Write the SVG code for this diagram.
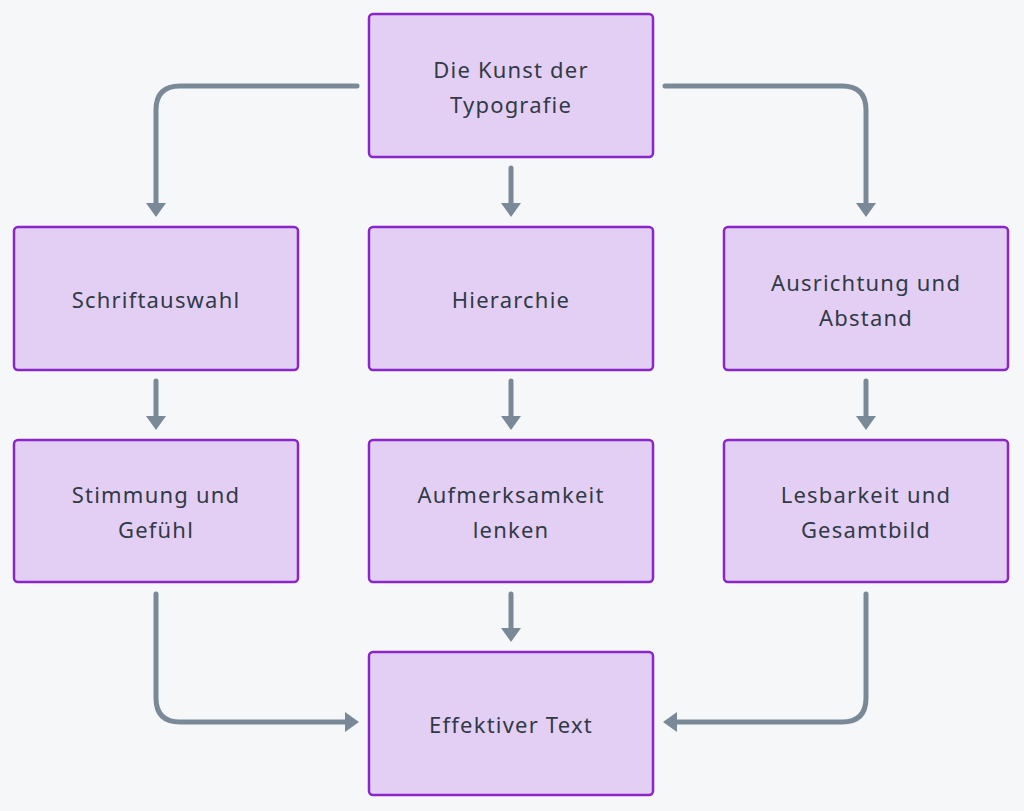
<svg xmlns="http://www.w3.org/2000/svg" width="1024" height="811" viewBox="0 0 1024 811">
<style>
.n rect{fill:#e4cff4;stroke:#8a26c9;stroke-width:2.5}
.n text{font-family:"Noto Sans","Open Sans",sans-serif;font-size:22px;fill:#313a46;text-anchor:middle;letter-spacing:1.2px}
.c path{fill:none;stroke:#7a8997;stroke-width:5;stroke-linecap:round;stroke-linejoin:round}
</style>
<defs>
<marker id="ah" viewBox="0 0 14 20" refX="0" refY="10" markerWidth="14" markerHeight="20" markerUnits="userSpaceOnUse" orient="auto">
<path d="M0,0 L14,10 L0,20 Z" fill="#7a8997"/>
</marker>
</defs>
<rect width="1024" height="811" fill="#f6f7f9"/>
<g class="c">
<path d="M357,86 H180 Q156,86 156,110 V203" marker-end="url(#ah)"/>
<path d="M511,168 V203" marker-end="url(#ah)"/>
<path d="M665,86 H842 Q866,86 866,110 V203" marker-end="url(#ah)"/>
<path d="M156,381 V416" marker-end="url(#ah)"/>
<path d="M511,381 V416" marker-end="url(#ah)"/>
<path d="M866,381 V416" marker-end="url(#ah)"/>
<path d="M156,594 V698 Q156,722 180,722 H345" marker-end="url(#ah)"/>
<path d="M511,594 V628" marker-end="url(#ah)"/>
<path d="M866,594 V698 Q866,722 842,722 H677" marker-end="url(#ah)"/>
</g>
<g id="n1" class="n"><rect x="369" y="14" width="284" height="143" rx="4"/><text x="511" y="78">Die Kunst der</text><text x="511" y="113">Typografie</text></g>
<g id="n2" class="n"><rect x="14" y="227" width="284" height="143" rx="4"/><text x="156" y="308">Schriftauswahl</text></g>
<g id="n3" class="n"><rect x="369" y="227" width="284" height="143" rx="4"/><text x="511" y="308">Hierarchie</text></g>
<g id="n4" class="n"><rect x="724" y="227" width="284" height="143" rx="4"/><text x="866" y="291">Ausrichtung und</text><text x="866" y="326">Abstand</text></g>
<g id="n5" class="n"><rect x="14" y="440" width="284" height="142" rx="4"/><text x="156" y="503">Stimmung und</text><text x="156" y="538">Gefühl</text></g>
<g id="n6" class="n"><rect x="369" y="440" width="284" height="142" rx="4"/><text x="511" y="503">Aufmerksamkeit</text><text x="511" y="538">lenken</text></g>
<g id="n7" class="n"><rect x="724" y="440" width="284" height="142" rx="4"/><text x="866" y="503">Lesbarkeit und</text><text x="866" y="538">Gesamtbild</text></g>
<g id="n8" class="n"><rect x="369" y="652" width="284" height="143" rx="4"/><text x="511" y="733">Effektiver Text</text></g>
</svg>
